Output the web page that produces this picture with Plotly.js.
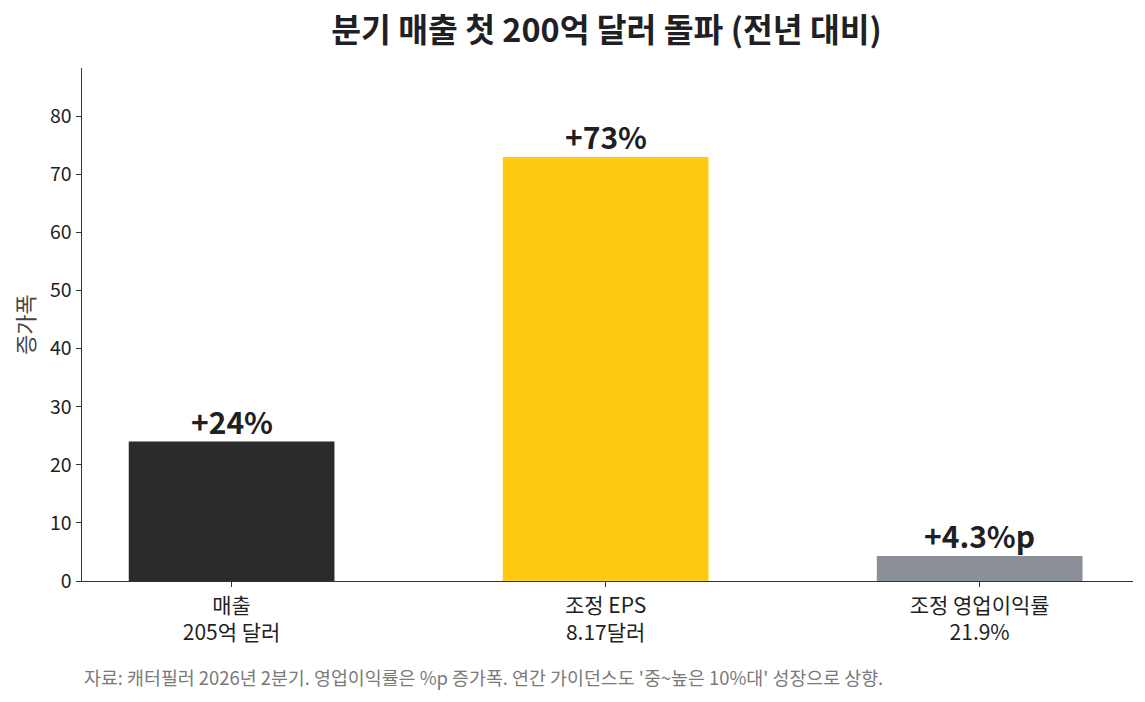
<!DOCTYPE html>
<html>
<head>
<meta charset="utf-8">
<script src="https://cdn.plot.ly/plotly-3.0.1.min.js"></script>
<style>
  html, body { margin: 0; padding: 0; background: #fff; }
  #chart { width: 1145px; height: 702px; }
</style>
</head>
<body>
<div id="chart"></div>
<script>
// Data
const categories = ["매출<br>205억 달러", "조정 EPS<br>8.17달러", "조정 영업이익률<br>21.9%"];
const growth = [24, 73, 4.3];
const growthLabels = ["+24%", "+73%", "+4.3%p"];
const barColors = ["#2b2b2b", "#fecb12", "#8b8f98"];

const font = "Noto Sans CJK KR, Noto Sans, sans-serif";

let trace = {
  x: [0, 1, 2],
  y: growth,
  type: "bar",
  width: 0.55,
  marker: { color: barColors },
  hoverinfo: "skip"
};

// Value labels above bars
let annotations = growth.map((v, i) => ({
  x: i,
  y: v,
  xref: "x",
  yref: "y",
  text: "<b>" + growthLabels[i] + "</b>",
  showarrow: false,
  yanchor: "bottom",
  yshift: -3,
  font: { family: font, size: 30, color: "#1f1f24" }
}));

// Footnote
annotations.push({
  xref: "paper",
  yref: "paper",
  x: 0,
  y: -0.187,
  xanchor: "left",
  yanchor: "middle",
  text: "자료: 캐터필러 2026년 2분기. 영업이익률은 %p 증가폭. 연간 가이던스도 '중~높은 10%대' 성장으로 상향.",
  showarrow: false,
  font: { family: font, size: 18.4, color: "#7a7a7a" }
});

let layout = {
  width: 1145,
  height: 702,
  paper_bgcolor: "#ffffff",
  plot_bgcolor: "#ffffff",
  margin: { l: 82, r: 12, t: 68, b: 121 },
  showlegend: false,
  font: { family: font, color: "#1f1f24" },
  title: {
    text: "<b>분기 매출 첫 200억 달러 돌파 (전년 대비)</b>",
    font: { family: font, size: 32.4, color: "#1f1f24" },
    x: 0.5297,
    xanchor: "center",
    y: 0.957,
    yanchor: "middle"
  },
  xaxis: {
    range: [-0.4, 2.41],
    tickmode: "array",
    tickvals: [0, 1, 2],
    ticktext: categories,
    ticks: "outside",
    ticklen: 5,
    tickcolor: "#333",
    tickfont: { family: font, size: 21, color: "#1f1f24" },
    showline: true,
    linecolor: "#333",
    linewidth: 1.4,
    showgrid: false,
    zeroline: false,
    fixedrange: true
  },
  yaxis: {
    range: [0, 88.3],
    tickmode: "array",
    tickvals: [0, 10, 20, 30, 40, 50, 60, 70, 80],
    ticks: "outside",
    ticklen: 5,
    tickcolor: "#333",
    tickfont: { family: font, size: 19.5, color: "#1f1f24" },
    showline: true,
    linecolor: "#333",
    linewidth: 1.4,
    showgrid: false,
    zeroline: false,
    fixedrange: true,
    title: {
      text: "증가폭",
      standoff: 9,
      font: { family: font, size: 22, color: "#444" }
    }
  },
  annotations: annotations
};

Plotly.newPlot("chart", [trace], layout, { displayModeBar: false, staticPlot: true });
</script>
</body>
</html>
